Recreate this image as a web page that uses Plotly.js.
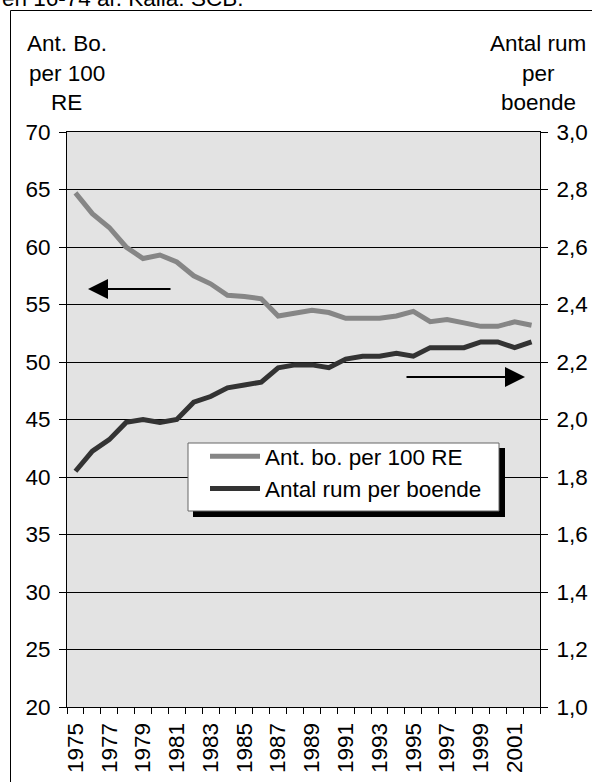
<!DOCTYPE html>
<html>
<head>
<meta charset="utf-8">
<script src="https://cdn.plot.ly/plotly-3.0.1.min.js"></script>
<style>
  html, body { margin: 0; padding: 0; background: #fff; }
  #chart { width: 592px; height: 782px; }
</style>
</head>
<body>
<div id="chart"></div>
<script>
// ---- data ----
const years = [1975,1976,1977,1978,1979,1980,1981,1982,1983,1984,1985,1986,1987,1988,
               1989,1990,1991,1992,1993,1994,1995,1996,1997,1998,1999,2000,2001,2002];
const antBoPer100RE = [64.7,62.9,61.7,60.0,59.0,59.3,58.7,57.5,56.8,55.8,55.7,55.5,54.0,54.3,
                       54.5,54.3,53.8,53.8,53.8,54.0,54.4,53.5,53.7,53.4,53.1,53.1,53.5,53.2];
const antalRumPerBoende = [1.82,1.89,1.93,1.99,2.00,1.99,2.00,2.06,2.08,2.11,2.12,2.13,2.18,2.19,
                           2.19,2.18,2.21,2.22,2.22,2.23,2.22,2.25,2.25,2.25,2.27,2.27,2.25,2.27];
const seriesNames = ['Ant. bo. per 100 RE', 'Antal rum per boende'];
const leftTitleLines = ['Ant. Bo.', 'per 100', 'RE'];
const rightTitleLines = ['Antal rum', 'per', 'boende'];
const topNote = 'en 16-74 år. Källa: SCB.';
const yearTicks = years.filter(y => y % 2 === 1);

// ---- geometry helpers (plot area in page pixels) ----
const W = 592, H = 782;
const PL = 67, PR = 540, PT = 132, PB = 707;
const px = x => (x - PL) / (PR - PL);
const py = y => (PB - y) / (PB - PT);

const FONT = 'Arial, "Liberation Sans", sans-serif';
const FS = 22.5;

const traces = [
  { x: years, y: antBoPer100RE, name: seriesNames[0], type: 'scatter', mode: 'lines',
    line: { color: '#868686', width: 5 }, yaxis: 'y', legendgroup: 'a' },
  { x: years, y: antalRumPerBoende, name: seriesNames[1], type: 'scatter', mode: 'lines',
    line: { color: '#333333', width: 5 }, yaxis: 'y2', legendgroup: 'b' }
];

const annotations = [];
const titleYs = [44, 73, 102];
leftTitleLines.forEach((t, i) => annotations.push({
  text: t, xref: 'paper', yref: 'paper', x: px(66.5), y: py(titleYs[i]),
  xanchor: 'center', yanchor: 'middle', showarrow: false, font: { family: FONT, size: FS, color: '#000' }
}));
rightTitleLines.forEach((t, i) => annotations.push({
  text: t, xref: 'paper', yref: 'paper', x: px(538), y: py(titleYs[i]),
  xanchor: 'center', yanchor: 'middle', showarrow: false, font: { family: FONT, size: FS, color: '#000' }
}));
annotations.push({
  text: topNote, xref: 'paper', yref: 'paper', x: px(0), y: py(-2),
  xanchor: 'left', yanchor: 'middle', showarrow: false, font: { family: FONT, size: FS, color: '#000' }
});
// arrows
annotations.push({
  text: '', xref: 'paper', yref: 'paper', x: px(88), y: py(289), ax: 84, ay: 0,
  showarrow: true, arrowhead: 2, arrowsize: 2, arrowwidth: 2, arrowcolor: '#000'
});
annotations.push({
  text: '', xref: 'paper', yref: 'paper', x: px(525), y: py(377), ax: -120, ay: 0,
  showarrow: true, arrowhead: 2, arrowsize: 2, arrowwidth: 2, arrowcolor: '#000'
});

const shapes = [
  // outer frame
  { type: 'rect', xref: 'paper', yref: 'paper', x0: px(10.5), x1: px(620), y0: py(800), y1: py(10.5),
    line: { color: '#000', width: 1 }, fillcolor: 'rgba(0,0,0,0)', layer: 'below' },
  // legend shadow
  { type: 'rect', xref: 'paper', yref: 'paper', x0: px(193), x1: px(505), y0: py(517), y1: py(448),
    line: { width: 0 }, fillcolor: '#000', layer: 'above' },
  // legend box
  { type: 'rect', xref: 'paper', yref: 'paper', x0: px(188), x1: px(499), y0: py(511), y1: py(443),
    line: { color: '#666', width: 1 }, fillcolor: '#fff', layer: 'above' }
];

const layout = {
  width: W, height: H,
  margin: { l: PL, r: W - PR, t: PT, b: H - PB, pad: 0 },
  paper_bgcolor: '#fff',
  plot_bgcolor: '#e3e3e3',
  separators: ', ',
  font: { family: FONT, size: FS, color: '#000' },
  showlegend: true,
  legend: {
    x: px(205), y: py(435), xanchor: 'left', yanchor: 'top',
    bgcolor: 'rgba(0,0,0,0)', borderwidth: 0,
    font: { family: FONT, size: FS, color: '#000' },
    traceorder: 'grouped', tracegroupgap: 0, itemwidth: 50
  },
  xaxis: {
    range: [1974.5, 2002.5], type: 'linear',
    tickmode: 'array', tickvals: yearTicks, ticktext: yearTicks.map(String),
    ticks: '', tickangle: -90, ticklabelstandoff: 6,
    showgrid: false, zeroline: false,
    showline: true, linecolor: '#000', linewidth: 1, mirror: true,
    minor: { tick0: 1974.5, dtick: 1, ticks: 'outside', ticklen: 6, tickcolor: '#000', tickwidth: 1, showgrid: false },
    tickfont: { family: FONT, size: FS, color: '#000' },
    fixedrange: true
  },
  yaxis: {
    range: [20, 70], dtick: 5, tick0: 20,
    ticks: 'outside', ticklen: 7, tickcolor: '#000',
    showgrid: true, gridcolor: '#000', gridwidth: 1, zeroline: false,
    showline: true, linecolor: '#000', linewidth: 1,
    tickfont: { family: FONT, size: FS, color: '#000' }, ticklabelstandoff: 4,
    fixedrange: true
  },
  yaxis2: {
    range: [1, 3], dtick: 0.2, tick0: 1, tickformat: '.1f',
    overlaying: 'y', side: 'right',
    ticks: 'outside', ticklen: 7, tickcolor: '#000',
    showgrid: false, zeroline: false,
    showline: true, linecolor: '#000', linewidth: 1,
    tickfont: { family: FONT, size: FS, color: '#000' }, ticklabelstandoff: 4,
    fixedrange: true
  },
  annotations: annotations,
  shapes: shapes
};

Plotly.newPlot('chart', traces, layout, { displayModeBar: false, staticPlot: true });
</script>
</body>
</html>
